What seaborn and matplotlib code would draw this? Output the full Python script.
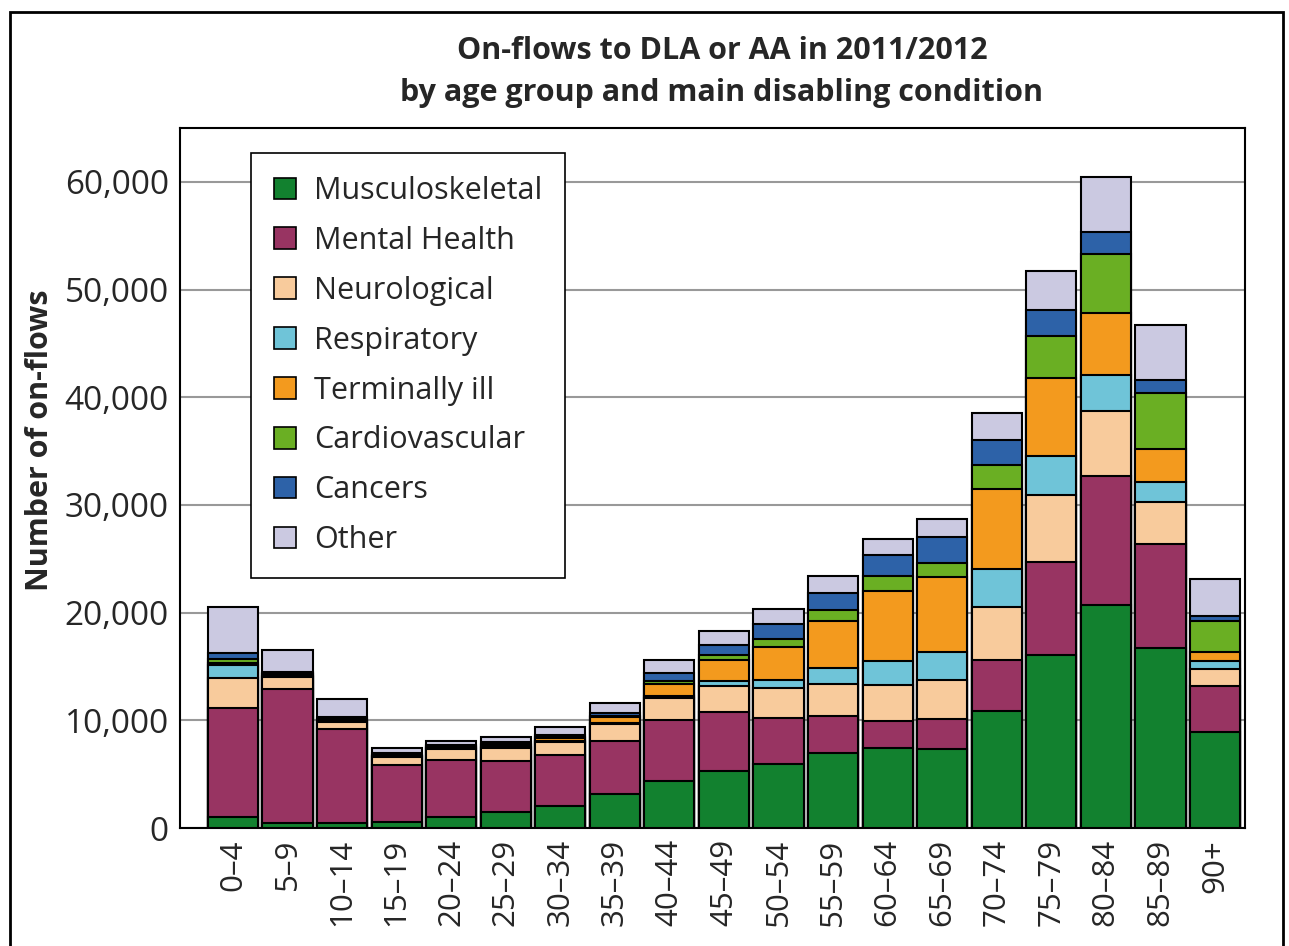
import matplotlib
matplotlib.use("Agg")
import matplotlib.pyplot as plt
import seaborn as sns
import pandas as pd
from matplotlib.patches import Patch, Rectangle

# age groups and on-flows per main disabling condition
ages = ['0–4', '5–9', '10–14', '15–19', '20–24', '25–29', '30–34', '35–39', '40–44',
        '45–49', '50–54', '55–59', '60–64', '65–69', '70–74', '75–79', '80–84', '85–89', '90+']
musculoskeletal = [1050, 500, 450, 600, 1000, 1500, 2070, 3160, 4400, 5320, 5970, 6960, 7400, 7310, 10860, 16100, 20740, 16710, 8960]
mental_health = [10100, 12400, 8700, 5250, 5300, 4730, 4680, 4920, 5600, 5420, 4270, 3440, 2530, 2780, 4760, 8640, 11950, 9640, 4240]
neurological = [2760, 1100, 700, 700, 1000, 1180, 1200, 1580, 2040, 2410, 2720, 3000, 3350, 3650, 4920, 6210, 6010, 3920, 1570]
respiratory = [1230, 120, 100, 100, 100, 150, 100, 100, 250, 530, 740, 1420, 2230, 2570, 3470, 3630, 3350, 1890, 730]
terminally_ill = [200, 150, 100, 50, 100, 150, 280, 530, 1080, 1890, 3100, 4390, 6470, 7000, 7430, 7230, 5730, 3030, 800]
cardiovascular = [370, 100, 100, 50, 80, 100, 100, 100, 280, 500, 740, 990, 1460, 1300, 2300, 3830, 5530, 5170, 2910]
cancers = [500, 150, 150, 200, 100, 180, 200, 300, 770, 900, 1420, 1580, 1890, 2380, 2260, 2420, 2020, 1250, 440]
other = [4330, 2040, 1670, 500, 430, 500, 750, 900, 1180, 1360, 1360, 1640, 1550, 1670, 2540, 3680, 5160, 5080, 3510]

conditions = ['Musculoskeletal', 'Mental Health', 'Neurological', 'Respiratory',
              'Terminally ill', 'Cardiovascular', 'Cancers', 'Other']
colors = ['#12812f', '#983462', '#f8cb9c', '#6fc4d8', '#f39a1e', '#6aaf23', '#2d62a8', '#cbc9e1']

df = pd.DataFrame({'age': ages, 'Musculoskeletal': musculoskeletal, 'Mental Health': mental_health,
                   'Neurological': neurological, 'Respiratory': respiratory,
                   'Terminally ill': terminally_ill, 'Cardiovascular': cardiovascular,
                   'Cancers': cancers, 'Other': other})
cum = df[conditions].cumsum(axis=1)

sns.set_style("white")
plt.rcParams['font.family'] = ['Open Sans', 'DejaVu Sans']

fig = plt.figure(figsize=(12.89, 9.46), dpi=100)
ax = fig.add_axes([180 / 1289, 1 - 828 / 946, 1065 / 1289, 700 / 946])

# stacked bars: draw cumulative totals from the top layer down
for cond, col in reversed(list(zip(conditions, colors))):
    sns.barplot(x=df['age'], y=cum[cond], color=col, order=ages, width=0.92,
                edgecolor='black', linewidth=1.5, saturation=1, ax=ax, zorder=3)

ax.set_ylim(0, 65000)
ax.set_xlim(-0.97, 18.55)
ax.set_yticks(range(0, 60001, 10000))
ax.set_yticklabels(['0', '10,000', '20,000', '30,000', '40,000', '50,000', '60,000'], fontsize=24)
ax.set_xticks(range(len(ages)))
ax.set_xticklabels(ages, rotation=90, fontsize=22.5)
ax.tick_params(axis='both', length=0, pad=8)
ax.grid(axis='y', color='#999999', linewidth=1.5, zorder=0)
ax.set_axisbelow(True)
for s in ax.spines.values():
    s.set_color('black')
    s.set_linewidth(1.5)
ax.set_xlabel('')
ax.set_ylabel('Number of on-flows', fontsize=22, fontweight='bold')
ax.yaxis.set_label_coords(-0.117, 0.554)

handles = [Patch(facecolor=c, edgecolor='black', linewidth=1.2) for c in colors]
leg = ax.legend(handles, conditions, loc='upper left', bbox_to_anchor=(0.0667, 0.964),
                borderaxespad=0, fontsize=22, frameon=True, fancybox=False, framealpha=1,
                handlelength=0.72, handleheight=0.72, handletextpad=0.6, labelspacing=0.65,
                borderpad=0.75)
leg.get_frame().set_edgecolor('black')
leg.get_frame().set_linewidth(1.2)
leg.set_zorder(5)

fig.text(722 / 1289, 1 - 72 / 946, 'On-flows to DLA or AA in 2011/2012\nby age group and main disabling condition',
         ha='center', va='center', fontsize=22, fontweight='bold', linespacing=1.55)

# outer frame
fig.patches.append(Rectangle((10 / 1289, -0.05), 1273 / 1289, 1.05 - 12 / 946,
                             transform=fig.transFigure, fill=False, edgecolor='black', linewidth=2))

fig.savefig('out.png', dpi=100)
